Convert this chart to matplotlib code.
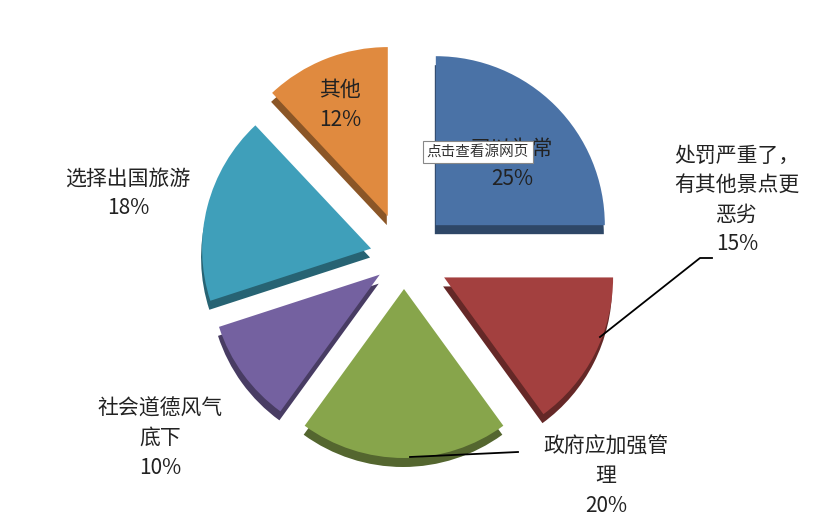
import matplotlib.pyplot as plt
import matplotlib.colors as mcolors

plt.rcParams['font.family'] = ['Noto Sans CJK SC', 'DejaVu Sans']

# data
labels = ['习以为常', '处罚严重了，\n有其他景点更\n恶劣', '政府应加强管\n理', '社会道德风气\n底下', '选择出国旅游', '其他']
values = [25, 15, 20, 10, 18, 12]
colors = ['#4a72a6', '#a3403f', '#87a54b', '#7461a0', '#3f9fba', '#e08a3f']
# explode distance in pixels (pie explode is in data units here)
explode = [45, 45, 32, 30, 34, 44]

W, H = 837, 520
fig = plt.figure(figsize=(W/100, H/100), dpi=100)
ax = fig.add_axes([0, 0, 1, 1])

cx, cy, r = 404, H - 257, 169

# side (thickness) layer
dark = [mcolors.to_hex([c*0.62 for c in mcolors.to_rgb(col)]) for col in colors]
ax.pie(values, explode=explode, colors=dark, startangle=90, counterclock=False,
       radius=r, center=(cx - 1, cy - 9), wedgeprops=dict(linewidth=0), frame=True)
# top layer
ax.pie(values, explode=explode, colors=colors, startangle=90, counterclock=False,
       radius=r, center=(cx, cy), wedgeprops=dict(linewidth=0), frame=True)
ax.set_xlim(0, W)
ax.set_ylim(0, H)
ax.set_aspect('equal')
ax.axis('off')

fs = 15
def lab(x, y, s):
    ax.text(x, H - y, s, ha='center', va='center', fontsize=fs, color='#222222', linespacing=1.45)

lab(512, 164, labels[0] + '\n' + str(values[0]) + '%')
lab(737, 200, labels[1] + '\n' + str(values[1]) + '%')
lab(606, 476, labels[2] + '\n' + str(values[2]) + '%')
lab(160, 438, labels[3] + '\n' + str(values[3]) + '%')
lab(128, 193, labels[4] + '\n' + str(values[4]) + '%')
lab(340, 105, labels[5] + '\n' + str(values[5]) + '%')

# leader lines
ax.plot([600, 700, 712], [H - 337, H - 258, H - 258], color='black', lw=1.3)
ax.plot([410, 518], [H - 457, H - 452], color='black', lw=1.3)

# browser overlay tooltip
ax.text(478, H - 152, '点击查看源网页', ha='center', va='center', fontsize=10.5, color='#333333',
        bbox=dict(boxstyle='square,pad=0.25', fc='white', ec='#888888', lw=0.8))

fig.savefig('out.png', dpi=100)
